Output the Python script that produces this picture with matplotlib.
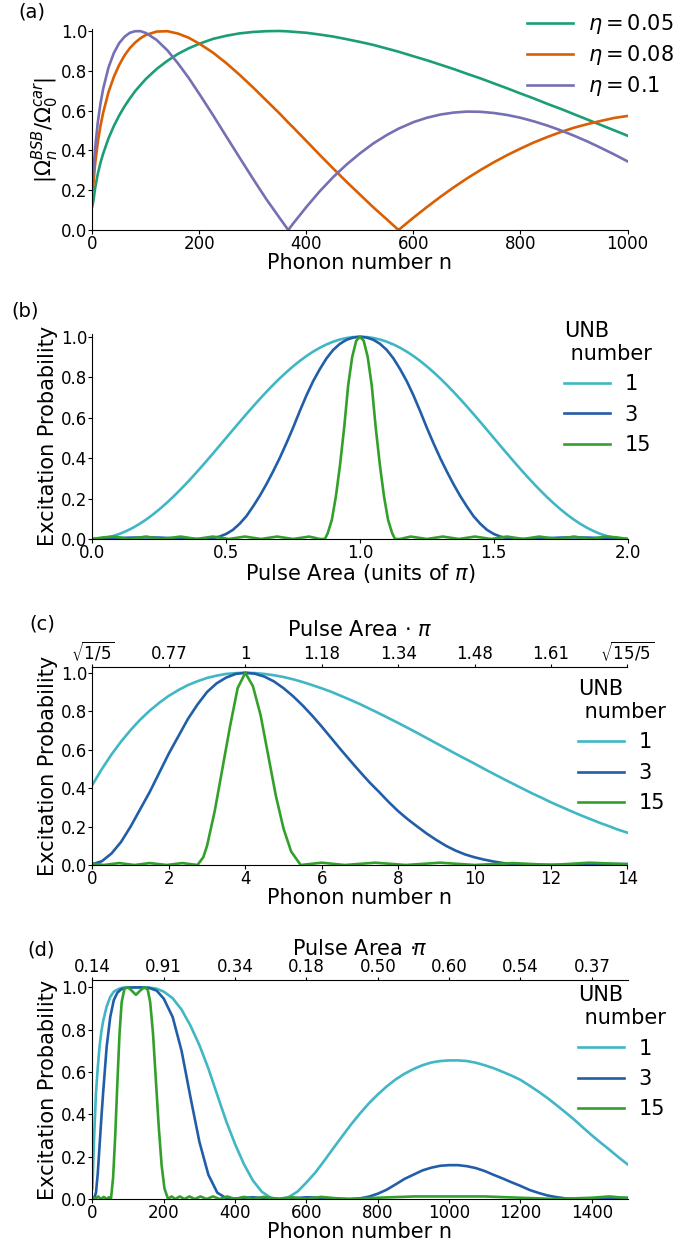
import matplotlib
matplotlib.use("Agg")
import matplotlib.pyplot as plt
from matplotlib.ticker import FormatStrFormatter

plt.rcParams['font.family'] = ['DejaVu Sans']
plt.rcParams['mathtext.fontset'] = 'dejavusans'

# ---- (a) sideband coupling vs phonon number ----
n_a = [0, 2, 5, 10, 15, 20, 30, 40, 50, 60, 70, 80, 90, 100, 120, 140, 160, 180, 200, 225,
       250, 275, 300, 325, 350, 366, 375, 400, 425, 450, 475, 500, 525, 550, 572, 600, 625,
       650, 675, 700, 725, 750, 775, 800, 825, 850, 875, 900, 925, 950, 975, 1000]
eta005 = [0.12, 0.148, 0.209, 0.281, 0.337, 0.383, 0.460, 0.522, 0.575, 0.621, 0.661, 0.698,
          0.729, 0.759, 0.809, 0.850, 0.885, 0.913, 0.936, 0.960, 0.976, 0.988, 0.995, 0.999,
          1.0, 0.998, 0.996, 0.991, 0.982, 0.972, 0.959, 0.945, 0.930, 0.912, 0.896, 0.873,
          0.853, 0.831, 0.809, 0.785, 0.762, 0.737, 0.712, 0.686, 0.661, 0.634, 0.609, 0.582,
          0.555, 0.528, 0.501, 0.474]
eta008 = [0.20, 0.236, 0.330, 0.440, 0.522, 0.588, 0.692, 0.769, 0.829, 0.877, 0.914, 0.942,
          0.964, 0.980, 0.997, 0.999, 0.987, 0.966, 0.936, 0.892, 0.839, 0.780, 0.717, 0.651,
          0.585, 0.540, 0.516, 0.447, 0.377, 0.309, 0.242, 0.178, 0.114, 0.054, 0.0, 0.062,
          0.115, 0.166, 0.214, 0.259, 0.301, 0.340, 0.376, 0.409, 0.440, 0.467, 0.492, 0.514,
          0.532, 0.548, 0.563, 0.573]
eta01 = [0.24, 0.293, 0.409, 0.539, 0.634, 0.708, 0.816, 0.889, 0.939, 0.971, 0.991, 0.999,
         0.999, 0.990, 0.955, 0.903, 0.837, 0.764, 0.683, 0.579, 0.471, 0.364, 0.258, 0.155,
         0.060, 0.0, 0.032, 0.116, 0.195, 0.266, 0.329, 0.385, 0.435, 0.477, 0.509, 0.542,
         0.564, 0.580, 0.590, 0.595, 0.594, 0.588, 0.578, 0.564, 0.546, 0.525, 0.501, 0.474,
         0.445, 0.413, 0.380, 0.345]
eta_labels = [r'$\eta = 0.05$', r'$\eta = 0.08$', r'$\eta = 0.1$']

# ---- (b) excitation vs pulse area (profiles are symmetric about 1) ----
area_b = [0, 0.025, 0.05, 0.075, 0.1, 0.125, 0.15, 0.175, 0.2, 0.225, 0.25, 0.275, 0.3,
          0.325, 0.35, 0.375, 0.4, 0.425, 0.45, 0.475, 0.5, 0.525, 0.55, 0.575, 0.6, 0.625,
          0.65, 0.675, 0.7, 0.725, 0.75, 0.775, 0.8, 0.825, 0.85, 0.875, 0.9, 0.925, 0.95,
          0.975, 1.0, 1.025, 1.05, 1.075, 1.1, 1.125, 1.15, 1.175, 1.2, 1.225, 1.25, 1.275,
          1.3, 1.325, 1.35, 1.375, 1.4, 1.425, 1.45, 1.475, 1.5, 1.525, 1.55, 1.575, 1.6,
          1.625, 1.65, 1.675, 1.7, 1.725, 1.75, 1.775, 1.8, 1.825, 1.85, 1.875, 1.9, 1.925,
          1.95, 1.975, 2.0]
p1_half = [0, 0.0015, 0.0062, 0.0138, 0.0245, 0.0381, 0.0545, 0.0737, 0.0955, 0.1198, 0.1464,
           0.1753, 0.2061, 0.2388, 0.2730, 0.3087, 0.3455, 0.3833, 0.4218, 0.4608, 0.5, 0.5392,
           0.5782, 0.6167, 0.6545, 0.6913, 0.7270, 0.7612, 0.7939, 0.8247, 0.8536, 0.8802,
           0.9045, 0.9263, 0.9455, 0.9619, 0.9755, 0.9862, 0.9938, 0.9985]
p3_half = [0, 0.001, 0.002, 0.0035, 0.005, 0.006, 0.007, 0.0075, 0.008, 0.0075, 0.007, 0.0055,
           0.004, 0.0025, 0.001, 0.0003, 0.0, 0.001, 0.004, 0.012, 0.025, 0.045, 0.075, 0.112,
           0.16, 0.212, 0.27, 0.333, 0.40, 0.473, 0.55, 0.632, 0.71, 0.78, 0.84, 0.893, 0.935,
           0.965, 0.985, 0.996]
area15_b = [0, 0.04, 0.08, 0.14, 0.2, 0.26, 0.33, 0.39, 0.45, 0.51, 0.57, 0.63, 0.69, 0.75,
            0.81, 0.85, 0.869, 0.88, 0.895, 0.91, 0.925, 0.941, 0.956, 0.971, 0.986, 1.0,
            1.014, 1.029, 1.044, 1.059, 1.075, 1.09, 1.105, 1.12, 1.131, 1.15, 1.19, 1.25,
            1.31, 1.37, 1.43, 1.49, 1.55, 1.61, 1.67, 1.74, 1.8, 1.86, 1.92, 1.96, 2.0]
p15_b = [0.0, 0.008, 0.012, 0.0, 0.012, 0.0, 0.012, 0.0, 0.012, 0.0, 0.012, 0.0, 0.012, 0.0,
         0.012, 0.0, 0.0, 0.03, 0.095, 0.21, 0.36, 0.55, 0.76, 0.9, 0.98, 1.0, 0.98, 0.9, 0.76,
         0.55, 0.36, 0.21, 0.095, 0.03, 0.0, 0.0, 0.012, 0.0, 0.012, 0.0, 0.012, 0.0, 0.012,
         0.0, 0.012, 0.0, 0.012, 0.0, 0.012, 0.008, 0.0]
p1_b = p1_half + [1.0] + p1_half[::-1]
p3_b = p3_half + [1.0] + p3_half[::-1]

# ---- (c) excitation vs phonon number, carrier ----
n_c = [0, 0.25, 0.5, 0.75, 1, 1.25, 1.5, 1.75, 2, 2.25, 2.5, 2.75, 3, 3.25, 3.5, 3.75, 4,
       4.25, 4.5, 4.75, 5, 5.25, 5.5, 5.75, 6, 6.25, 6.5, 6.75, 7, 7.25, 7.5, 7.75, 8, 8.25,
       8.5, 8.75, 9, 9.25, 9.5, 9.75, 10, 10.25, 10.5, 10.75, 11, 11.25, 11.5, 11.75, 12,
       12.25, 12.5, 12.75, 13, 13.25, 13.5, 13.75, 14]
p1_c = [0.417, 0.5, 0.575, 0.642, 0.702, 0.756, 0.803, 0.844, 0.880, 0.910, 0.936, 0.956,
        0.973, 0.985, 0.994, 0.998, 1.0, 0.9985, 0.994, 0.987, 0.978, 0.966, 0.952, 0.936,
        0.919, 0.901, 0.880, 0.859, 0.837, 0.813, 0.789, 0.764, 0.739, 0.713, 0.687, 0.660,
        0.633, 0.606, 0.579, 0.553, 0.527, 0.5, 0.474, 0.448, 0.423, 0.398, 0.373, 0.350,
        0.326, 0.304, 0.282, 0.261, 0.241, 0.221, 0.203, 0.184, 0.168]
p3_c = [0.004, 0.02, 0.06, 0.12, 0.2, 0.29, 0.38, 0.48, 0.58, 0.67, 0.76, 0.835, 0.9, 0.945,
        0.975, 0.994, 1.0, 0.995, 0.98, 0.955, 0.92, 0.878, 0.83, 0.777, 0.72, 0.66, 0.6,
        0.542, 0.485, 0.43, 0.38, 0.328, 0.28, 0.238, 0.2, 0.163, 0.13, 0.1, 0.075, 0.055,
        0.04, 0.028, 0.018, 0.01, 0.005, 0.002, 0.001, 0.001, 0.001, 0.001, 0.002, 0.003,
        0.004, 0.005, 0.005, 0.005, 0.005]
n15_c = [0, 0.3, 0.7, 1.1, 1.5, 1.95, 2.35, 2.75, 2.9, 3.0, 3.2, 3.4, 3.6, 3.8, 4.0, 4.2, 4.4,
         4.6, 4.8, 5.0, 5.2, 5.45, 6.0, 6.6, 7.4, 8.2, 9.1, 10.0, 11.0, 12.0, 13.0, 14.0]
p15_c = [0.008, 0.0, 0.01, 0.0, 0.01, 0.0, 0.01, 0.0, 0.04, 0.1, 0.28, 0.5, 0.72, 0.92, 1.0,
         0.93, 0.78, 0.57, 0.36, 0.19, 0.07, 0.0, 0.012, 0.0, 0.012, 0.0, 0.012, 0.0, 0.01,
         0.0, 0.012, 0.004]
top_c_ticks = [0, 2, 4, 6, 8, 10, 12, 14]
top_c_labels = [r'$\sqrt{1/5}$', '0.77', '1', '1.18', '1.34', '1.48', '1.61', r'$\sqrt{15/5}$']

# ---- (d) excitation vs phonon number, blue sideband ----
n_d = [0, 5, 10, 15, 20, 25, 30, 40, 50, 60, 70, 80, 90, 100, 120, 140, 160, 180,
       200, 225, 250, 275, 300, 325, 350, 375, 400, 425, 450, 475, 500, 525, 550, 575, 600,
       625, 650, 675, 700, 725, 750, 775, 800, 825, 850, 875, 900, 925, 950, 975, 1000, 1025,
       1050, 1075, 1100, 1125, 1150, 1175, 1200, 1225, 1250, 1275, 1300, 1325, 1350, 1375,
       1400, 1425, 1450, 1475, 1500]
p1_d = [0.05, 0.3, 0.5, 0.62, 0.72, 0.79, 0.84, 0.91, 0.955, 0.98, 0.99, 0.997, 0.999, 1.0,
        1.0, 1.0, 0.999, 0.994,
        0.980, 0.949, 0.895, 0.819, 0.727, 0.617, 0.492, 0.368, 0.259, 0.164, 0.087, 0.034,
        0.006, 0.0, 0.009, 0.035, 0.078, 0.125, 0.181, 0.239, 0.296, 0.352, 0.404, 0.452,
        0.494, 0.532, 0.565, 0.592, 0.614, 0.632, 0.645, 0.652, 0.655, 0.655, 0.652, 0.644,
        0.632, 0.618, 0.601, 0.583, 0.563, 0.536, 0.508, 0.478, 0.445, 0.411, 0.376, 0.338,
        0.301, 0.266, 0.232, 0.197, 0.164]
p3_d = [0.006, 0.004, 0.03, 0.12, 0.25, 0.38, 0.5, 0.72, 0.86, 0.94, 0.975, 0.99, 0.997,
        0.999, 1.0, 1.0, 0.997, 0.985,
        0.947, 0.86, 0.70, 0.48, 0.27, 0.115, 0.03, 0.004, 0.002, 0.006, 0.008, 0.005, 0.002,
        0.0, 0.002, 0.005, 0.008, 0.007, 0.004, 0.002, 0.0, 0.0, 0.003, 0.011, 0.025, 0.044,
        0.069, 0.095, 0.115, 0.135, 0.148, 0.157, 0.16, 0.16, 0.155, 0.146, 0.132, 0.114,
        0.097, 0.079, 0.062, 0.043, 0.029, 0.017, 0.009, 0.003, 0.0, 0.0, 0.002, 0.003, 0.004,
        0.005, 0.006]
n15_d = [0, 8, 16, 24, 32, 40, 46, 52, 58, 64, 70, 76, 82, 90, 100, 110, 122, 134, 145, 155,
         162, 170, 178, 186, 194, 202, 212, 222, 232, 245, 258, 272, 287, 303, 320, 338, 357,
         378, 400, 425, 450, 480, 520, 560, 600, 640, 680, 720, 800, 900, 1000, 1100, 1200,
         1300, 1400, 1450, 1500]
p15_d = [0.01, 0.0, 0.012, 0.0, 0.01, 0.0, 0.008, 0.0, 0.1, 0.3, 0.55, 0.78, 0.93, 0.995, 1.0,
         0.985, 0.965, 0.985, 1.0, 0.99, 0.93, 0.78, 0.56, 0.34, 0.16, 0.05, 0.0, 0.012, 0.0,
         0.012, 0.0, 0.012, 0.0, 0.012, 0.0, 0.012, 0.0, 0.012, 0.0, 0.01, 0.0, 0.01, 0.0,
         0.008, 0.0, 0.01, 0.004, 0.0, 0.006, 0.012, 0.012, 0.012, 0.006, 0.0, 0.006, 0.012,
         0.004]
top_d_ticks = [0, 200, 400, 600, 800, 1000, 1200, 1400]
top_d_labels = ['0.14', '0.91', '0.34', '0.18', '0.50', '0.60', '0.54', '0.37']

unb_labels = ['1', '3', '15']
unb_colors = ['#41b6c4', '#225ea8', '#33a02c']
eta_colors = ['#1b9e77', '#d95f02', '#7570b3']

W, H = 689, 1243
fig = plt.figure(figsize=(W / 100, H / 100), dpi=100)


def box(top, bottom):
    # axes rectangle from pixel rows of the reference picture
    left, right = 92.4, 627.5
    return [left / W, 1 - bottom / H, (right - left) / W, (bottom - top) / H]


def style(ax, ymax):
    ax.set_ylim(0, ymax)
    ax.set_yticks([0, 0.2, 0.4, 0.6, 0.8, 1.0])
    ax.yaxis.set_major_formatter(FormatStrFormatter('%.1f'))
    ax.spines['right'].set_visible(False)
    ax.spines['top'].set_visible(False)
    ax.tick_params(labelsize=12, length=3, pad=0.8)


def top_axis(ax, ticks, labels, title):
    top = ax.secondary_xaxis('top')
    top.set_xticks(ticks, labels=labels)
    top.tick_params(labelsize=12, length=2.5, pad=0.3)
    top.set_xlabel(title, fontsize=15, labelpad=2.5)


lw = 1.9

# (a)
ax = fig.add_axes(box(29, 230))
for y, c, lab in zip([eta005, eta008, eta01], eta_colors, eta_labels):
    ax.plot(n_a, y, color=c, lw=lw, label=lab)
ax.set_xlim(0, 1000)
style(ax, 1.01)
ax.set_xlabel('Phonon number n', fontsize=15, labelpad=-0.5)
ax.set_ylabel(r'$|\Omega_n^{BSB}/\Omega_0^{car}|$', fontsize=15, labelpad=0)
ax.legend(frameon=False, loc='upper left', bbox_to_anchor=(0.813, 1.085), fontsize=15,
          handlelength=2.2, handletextpad=0.7, labelspacing=0.35, borderpad=0,
          borderaxespad=0)


def unb_panel(ax, xs, ys, anchor):
    for x, y, c, lab in zip(xs, ys, unb_colors, unb_labels):
        ax.plot(x, y, color=c, lw=lw, label=lab)
    ax.set_ylabel('Excitation Probability', fontsize=15, labelpad=2)
    ax.legend(frameon=False, loc='upper left', bbox_to_anchor=anchor, fontsize=15,
              title='UNB\n number', title_fontsize=15, alignment='left',
              handlelength=2.2, handletextpad=0.7, labelspacing=0.5, borderpad=0,
              borderaxespad=0)


# (b)
ax = fig.add_axes(box(333.7, 539))
unb_panel(ax, [area_b, area_b, area15_b], [p1_b, p3_b, p15_b], (0.882, 1.064))
ax.set_xlim(0, 2)
ax.set_xticks([0, 0.5, 1.0, 1.5, 2.0])
ax.xaxis.set_major_formatter(FormatStrFormatter('%.1f'))
style(ax, 1.015)
ax.set_xlabel(r'Pulse Area (units of $\pi$)', fontsize=15, labelpad=-0.5)

# (c)
ax = fig.add_axes(box(667, 865))
unb_panel(ax, [n_c, n_c, n15_c], [p1_c, p3_c, p15_c], (0.908, 0.94))
ax.set_xlim(0, 14)
ax.set_xticks([0, 2, 4, 6, 8, 10, 12, 14])
style(ax, 1.03)
ax.set_xlabel('Phonon number n', fontsize=15, labelpad=-0.5)
top_axis(ax, top_c_ticks, top_c_labels, r'Pulse Area $\cdot$ $\pi$')

# (d)
ax = fig.add_axes(box(980, 1199))
unb_panel(ax, [n_d, n_d, n15_d], [p1_d, p3_d, p15_d], (0.908, 0.977))
ax.set_xlim(0, 1500)
ax.set_xticks([0, 200, 400, 600, 800, 1000, 1200, 1400])
style(ax, 1.035)
ax.set_xlabel('Phonon number n', fontsize=15, labelpad=-0.5)
top_axis(ax, top_d_ticks, top_d_labels, r'Pulse Area $\cdot\!\pi$')

for lab, x, y in [('(a)', 18, 3), ('(b)', 11, 302), ('(c)', 29, 614), ('(d)', 27, 940)]:
    fig.text(x / W, 1 - y / H, lab, fontsize=14, va='top')

fig.savefig('out.png', dpi=100)
